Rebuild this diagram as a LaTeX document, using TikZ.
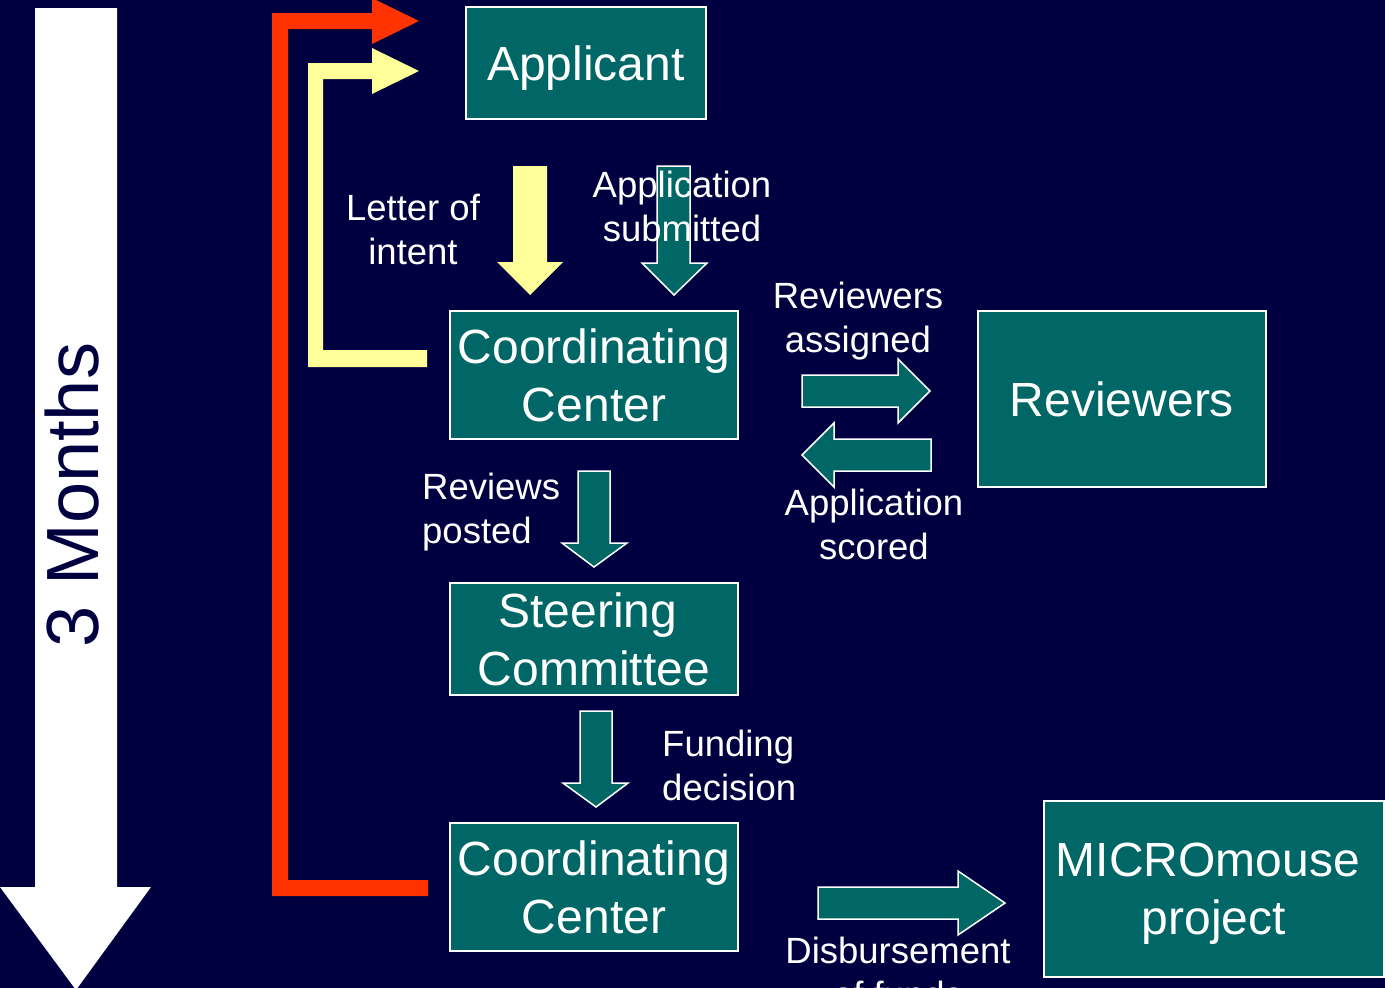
\documentclass[tikz,border=0pt]{standalone}
\usepackage{fontspec}
\setmainfont{Liberation Sans}
\definecolor{bgnavy}{RGB}{0,0,64}
\definecolor{tealbox}{RGB}{0,102,102}
\definecolor{redarrow}{RGB}{255,51,0}
\definecolor{yelarrow}{RGB}{255,255,153}
\begin{document}
\begin{tikzpicture}[x=1pt,y=-1pt,
  procbox/.style={draw=white,line width=2pt,fill=tealbox,text=white,inner sep=0pt,align=center,font=\fontsize{48}{58}\selectfont},
  lbltext/.style={text=white,inner sep=0pt,font=\fontsize{36.5}{44}\selectfont},
  tealarrow/.style={fill=tealbox,draw=white,line width=1.5pt,line join=miter},
]
\useasboundingbox (0,0) rectangle (1385,988);
\clip (0,0) rectangle (1385,988);
\fill[bgnavy] (0,0) rectangle (1385,988);

% 3 months arrow
\fill[white] (35,8) -- (117,8) -- (117,887) -- (151,887) -- (76,990) -- (0,887) -- (35,887) -- cycle;
\node[rotate=90,text=bgnavy,inner sep=0pt,font=\fontsize{74}{80}\selectfont] (months) at (72,495) {3 Months};

% boxes
\node[procbox,minimum width=240pt,minimum height=112pt,text depth=0pt] (app) at (586,63) {Applicant};
\node[procbox,minimum width=288pt,minimum height=128pt] (cc1) at (594,375) {Coordinating\\Center};
\node[procbox,minimum width=288pt,minimum height=176pt,text depth=0pt] (rev) at (1122,399) {Reviewers};
\node[procbox,minimum width=288pt,minimum height=112pt] (sc) at (594,639) {Steering\hspace*{12pt}\\Committee};
\node[procbox,minimum width=288pt,minimum height=128pt] (cc2) at (594,887) {Coordinating\\Center};
\node[procbox,minimum width=340pt,minimum height=176pt] (micro) at (1214,889) {MICROmouse\hspace*{12pt}\\\raisebox{0pt}[\height][0pt]{project}};

% red feedback arrow
\fill[redarrow] (428,880) -- (288,880) -- (288,29) -- (372,29) -- (372,44) -- (419,21) -- (372,-2) -- (372,13) -- (272,13) -- (272,896) -- (428,896) -- cycle;
% yellow feedback arrow
\fill[yelarrow] (427,350) -- (323,350) -- (323,79) -- (372,79) -- (372,94) -- (419,71) -- (372,48) -- (372,63) -- (308,63) -- (308,367) -- (427,367) -- cycle;

% letter of intent arrow
\fill[yelarrow] (513,166) -- (547,166) -- (547,262) -- (563,262) -- (530,295) -- (497,262) -- (513,262) -- cycle;
% application submitted arrow
\draw[tealarrow] (657,166) -- (690,166) -- (690,263) -- (707,263) -- (674,295) -- (642,263) -- (657,263) -- cycle;
% reviewers assigned
\draw[tealarrow] (802,375) -- (898,375) -- (898,359) -- (930,391) -- (898,423) -- (898,407) -- (802,407) -- cycle;
% application scored
\draw[tealarrow] (931,439) -- (834,439) -- (834,423) -- (802,455) -- (834,487) -- (834,471) -- (931,471) -- cycle;
% reviews posted
\draw[tealarrow] (578,471) -- (610,471) -- (610,543) -- (627,543) -- (594,567) -- (562,543) -- (578,543) -- cycle;
% funding decision
\draw[tealarrow] (580,711) -- (612,711) -- (612,783) -- (628,783) -- (596,807) -- (563,783) -- (580,783) -- cycle;
% disbursement
\draw[tealarrow] (818,887) -- (958,887) -- (958,871) -- (1005,903) -- (958,935) -- (958,919) -- (818,919) -- cycle;

% labels
\node[lbltext,align=center] (loi) at (413,229) {Letter of\\intent};
\node[lbltext,align=center] (appsub) at (682,206) {Application\\submitted};
\node[lbltext,align=center] (revass) at (858,321) {Reviewers\\assigned};
\node[lbltext,align=center] (appsc) at (874,524) {Application\\scored};
\node[lbltext,align=left,anchor=west] (revpost) at (422,512) {Reviews\\posted};
\node[lbltext,align=left,anchor=west] (fund) at (662,765) {Funding\\decision};
\node[lbltext,align=center] (disb) at (898,972) {Disbursement\\of funds};
\end{tikzpicture}
\end{document}
